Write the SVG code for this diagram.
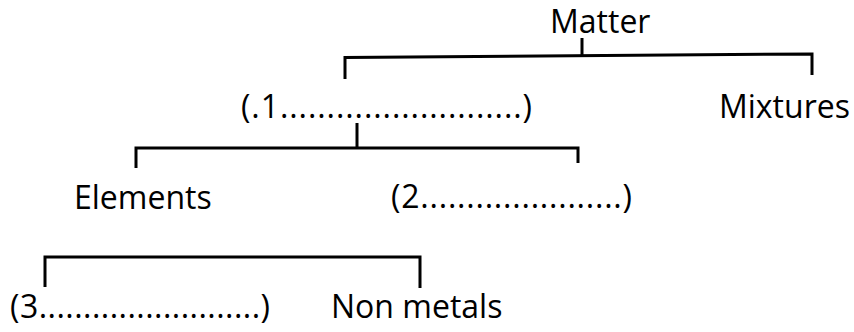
<svg xmlns="http://www.w3.org/2000/svg" width="854" height="332" viewBox="0 0 854 332">
<style>
  .t { font-family: "Open Sans", "Noto Sans", sans-serif; font-size: 32px; fill: #000; }
  .c { fill: none; stroke: #000; stroke-width: 3; stroke-linecap: butt; stroke-linejoin: miter; }
</style>
<rect width="854" height="332" fill="#fff"/>
<g id="connectors">
  <path class="c" d="M582 38 V56"/>
  <path class="c" d="M345 79 V57.5 L812 54 V75"/>
  <path class="c" d="M357 123 V148"/>
  <path class="c" d="M136 168 V148 H578 V163"/>
  <path class="c" d="M45 287 V257 H420 V288"/>
</g>
<g id="matter"><text class="t" x="550" y="33">Matter</text></g>
<g id="blank1"><text class="t" x="241" y="118" textLength="291" lengthAdjust="spacing">(.1..........................)</text></g>
<g id="mixtures"><text class="t" x="719" y="118">Mixtures</text></g>
<g id="elements"><text class="t" x="74" y="209">Elements</text></g>
<g id="blank2"><text class="t" x="391" y="208" textLength="241" lengthAdjust="spacing">(2......................)</text></g>
<g id="blank3"><text class="t" x="10" y="318" textLength="260" lengthAdjust="spacing">(3.........................)</text></g>
<g id="nonmetals"><text class="t" x="331" y="318">Non metals</text></g>
</svg>
